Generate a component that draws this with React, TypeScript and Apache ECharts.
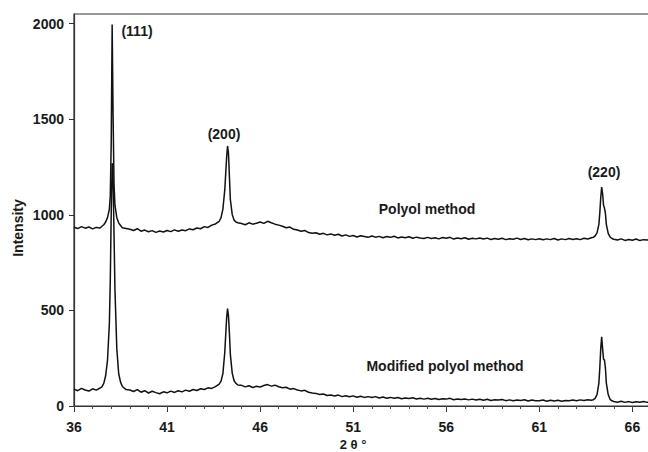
import React, { useEffect, useRef } from "react";
import * as echarts from "echarts";

// 2θ positions (degrees) shared by both diffraction patterns
const twoTheta = [
  36.0, 36.2, 36.4, 36.6, 36.8, 37.0, 37.2, 37.4,
  37.5, 37.6, 37.7, 37.8, 37.9, 37.95, 38.0, 38.05, 38.1, 38.15, 38.2, 38.3, 38.4, 38.5, 38.6, 38.8,
  39.0, 39.2, 39.4, 39.6, 39.8, 40.0, 40.2, 40.4, 40.6, 40.8, 41.0, 41.2, 41.4, 41.6, 41.8, 42.0, 42.2, 42.4, 42.6, 42.8, 43.0, 43.2, 43.4,
  43.6, 43.8, 43.9, 44.0, 44.1, 44.2, 44.25, 44.3, 44.35, 44.4, 44.5, 44.6, 44.7, 44.8,
  45.0, 45.2, 45.4, 45.6, 45.8, 46.0, 46.2, 46.4, 46.6, 46.8,
  47.0, 47.2, 47.4, 47.6, 47.8, 48.0, 48.2, 48.4, 48.6, 48.8,
  49.0, 49.2, 49.4, 49.6, 49.8, 50.0, 50.2, 50.4, 50.6, 50.8,
  51.0, 51.2, 51.4, 51.6, 51.8, 52.0, 52.2, 52.4, 52.6, 52.8,
  53.0, 53.2, 53.4, 53.6, 53.8, 54.0, 54.2, 54.4, 54.6, 54.8,
  55.0, 55.2, 55.4, 55.6, 55.8, 56.0, 56.2, 56.4, 56.6, 56.8,
  57.0, 57.2, 57.4, 57.6, 57.8, 58.0, 58.2, 58.4, 58.6, 58.8,
  59.0, 59.2, 59.4, 59.6, 59.8, 60.0, 60.2, 60.4, 60.6, 60.8,
  61.0, 61.2, 61.4, 61.6, 61.8, 62.0, 62.2, 62.4, 62.6, 62.8,
  63.0, 63.2, 63.4, 63.6, 63.8,
  63.9, 64.0, 64.1, 64.2, 64.25, 64.3, 64.35, 64.4, 64.45, 64.5, 64.55, 64.6, 64.7, 64.8, 64.9,
  65.0, 65.2, 65.4, 65.6, 65.8, 66.0, 66.2, 66.4, 66.6, 66.8, 67.0,
];

// Intensity, polyol method
const polyol = [
  935, 928, 938, 930, 936, 926, 934, 931,
  940, 948, 962, 985, 1030, 1100, 1380, 1995, 1520, 1160, 1050, 985, 958, 944, 932, 928,
  924, 918, 927, 914, 920, 911, 917, 908, 915, 910, 918, 912, 921, 914, 920, 917, 926, 922, 931, 927, 938, 934, 946,
  952, 966, 985, 1030, 1130, 1300, 1360, 1320, 1200, 1080, 1002, 972, 962, 958,
  954, 948, 958, 951, 956, 962, 955, 966, 958, 951,
  946, 940, 932, 936, 924, 920, 914, 918, 907, 903,
  906, 898, 903, 895, 900, 893, 898, 889, 895, 887,
  892, 884, 890, 886, 882, 889, 883, 887, 880, 886,
  882, 888, 879, 884, 880, 885, 877, 883, 879, 876,
  882, 876, 880, 874, 881, 877, 882, 873, 879, 875,
  880, 872, 877, 874, 879, 873, 878, 871, 876, 872,
  877, 870, 875, 872, 878, 871, 876, 869, 874, 870,
  875, 869, 874, 870, 876, 868, 874, 870, 876, 871,
  875, 870, 877, 873, 880,
  882, 890, 905, 950, 1010, 1090, 1145, 1110, 1050, 1035, 1008, 950, 903, 884, 876,
  872, 868, 874, 866, 871, 867, 873, 865, 870, 868, 872,
];

// Intensity, modified polyol method
const modifiedPolyol = [
  88, 80, 92, 84, 78, 90, 83, 94,
  100, 118, 158, 240, 430, 660, 1010, 1270, 1190, 900, 610, 300, 170, 125, 102, 86,
  84, 76, 86, 72, 80, 68, 77, 70, 64, 74, 69, 78, 71, 80, 74, 83, 77, 86, 81, 90, 86, 95, 92,
  101, 114, 130, 170, 280, 460, 510, 470, 380, 270, 172, 132, 118, 110,
  108, 100, 106, 97, 103, 99, 107, 112, 104, 109,
  101, 95, 98, 88, 91, 84, 79, 82, 72, 68,
  66, 60, 63, 55, 58, 52, 57, 49, 54, 48,
  53, 46, 51, 45, 49, 44, 49, 42, 47, 41,
  45, 40, 44, 38, 42, 39, 43, 37, 41, 36,
  40, 35, 39, 34, 38, 36, 40, 33, 37, 34,
  37, 32, 36, 31, 35, 30, 35, 29, 33, 31,
  34, 28, 32, 27, 31, 29, 33, 26, 31, 28,
  27, 31, 25, 30, 26, 30, 25, 29, 27, 31,
  28, 32, 29, 33, 30,
  33, 40, 60, 120, 200, 300, 362, 300, 245, 240, 200, 120, 60, 35, 27,
  24, 20, 25, 19, 23, 18, 22, 20, 24, 19, 21,
];

const xMajorTicks = [36, 41, 46, 51, 56, 61, 66];
const xMinorTicks = [
  36, 37, 38, 39, 40, 41, 42, 43, 44, 45, 46, 47, 48, 49, 50, 51,
  52, 53, 54, 55, 56, 57, 58, 59, 60, 61, 62, 63, 64, 65, 66, 67,
];
const yTicks = [0, 500, 1000, 1500, 2000];

const peakLabels = ["(111)", "(200)", "(220)"];
const sampleNames = ["Polyol method", "Modified polyol method"];
const xAxisTitle = "2 θ °";
const yAxisTitle = "Intensity";

const FONT = '"Liberation Sans", Arial, sans-serif';
const INK = "#1a1a1a";

function pairs(values: number[]): number[][] {
  return twoTheta.map((t, i) => [t, values[i]]);
}

export default function App() {
  const ref = useRef<HTMLDivElement>(null);

  useEffect(() => {
    document.body.style.margin = "0";
    if (!ref.current) return;
    const chart = echarts.init(ref.current, null, { renderer: "svg" });

    const labelStyle = (text: string, size = 14) => ({
      text,
      font: `bold ${size}px ${FONT}`,
      fill: INK,
      align: "center",
      verticalAlign: "middle",
    });

    const tickLabel = {
      color: INK,
      fontFamily: FONT,
      fontWeight: "bold",
      fontSize: 14,
      formatter: (v: number) => String(v),
    };

    chart.setOption({
      animation: false,
      backgroundColor: "#ffffff",
      grid: {
        left: 74,
        top: 14,
        width: 577,
        height: 392,
        show: true,
        borderColor: "#333",
        borderWidth: 1.2,
        backgroundColor: "transparent",
        containLabel: false,
        outerBoundsMode: "none",
      },
      xAxis: [
        {
          type: "value",
          min: 36,
          max: 67,
          axisLine: { show: true, lineStyle: { color: "#333", width: 1.2 } },
          axisTick: {
            show: true,
            customValues: xMajorTicks,
            length: 6,
            inside: false,
            lineStyle: { color: "#333" },
          },
          axisLabel: { ...tickLabel, customValues: xMajorTicks, margin: 14 },
          splitLine: { show: false },
        },
        {
          type: "value",
          min: 36,
          max: 67,
          position: "bottom",
          axisLine: { show: false },
          axisTick: {
            show: true,
            customValues: xMinorTicks,
            length: 3,
            lineStyle: { color: "#444" },
          },
          axisLabel: { show: false },
          splitLine: { show: false },
        },
      ],
      yAxis: {
        type: "value",
        min: 0,
        max: 2050,
        axisLine: { show: true, lineStyle: { color: "#333", width: 1.2 } },
        axisTick: {
          show: true,
          customValues: yTicks,
          length: 5,
          lineStyle: { color: "#333" },
        },
        axisLabel: { ...tickLabel, customValues: yTicks, margin: 10 },
        splitLine: { show: false },
      },
      series: [
        {
          name: sampleNames[0],
          type: "line",
          xAxisIndex: 0,
          data: pairs(polyol),
          showSymbol: false,
          lineStyle: { color: "#111", width: 1.5 },
          silent: true,
        },
        {
          name: sampleNames[1],
          type: "line",
          xAxisIndex: 0,
          data: pairs(modifiedPolyol),
          showSymbol: false,
          lineStyle: { color: "#111", width: 1.5 },
          silent: true,
        },
      ],
      graphic: [
        { type: "text", x: 137, y: 31, style: labelStyle(peakLabels[0]) },
        { type: "text", x: 224, y: 134, style: labelStyle(peakLabels[1]) },
        { type: "text", x: 604, y: 172, style: labelStyle(peakLabels[2]) },
        { type: "text", x: 427, y: 209, style: labelStyle(sampleNames[0]) },
        { type: "text", x: 445, y: 366, style: labelStyle(sampleNames[1]) },
        { type: "text", x: 353, y: 444, style: labelStyle(xAxisTitle, 13) },
        {
          type: "text",
          x: 18,
          y: 228,
          rotation: Math.PI / 2,
          style: labelStyle(yAxisTitle),
        },
      ],
    });

    return () => chart.dispose();
  }, []);

  return <div ref={ref} style={{ width: 648, height: 452 }} />;
}
